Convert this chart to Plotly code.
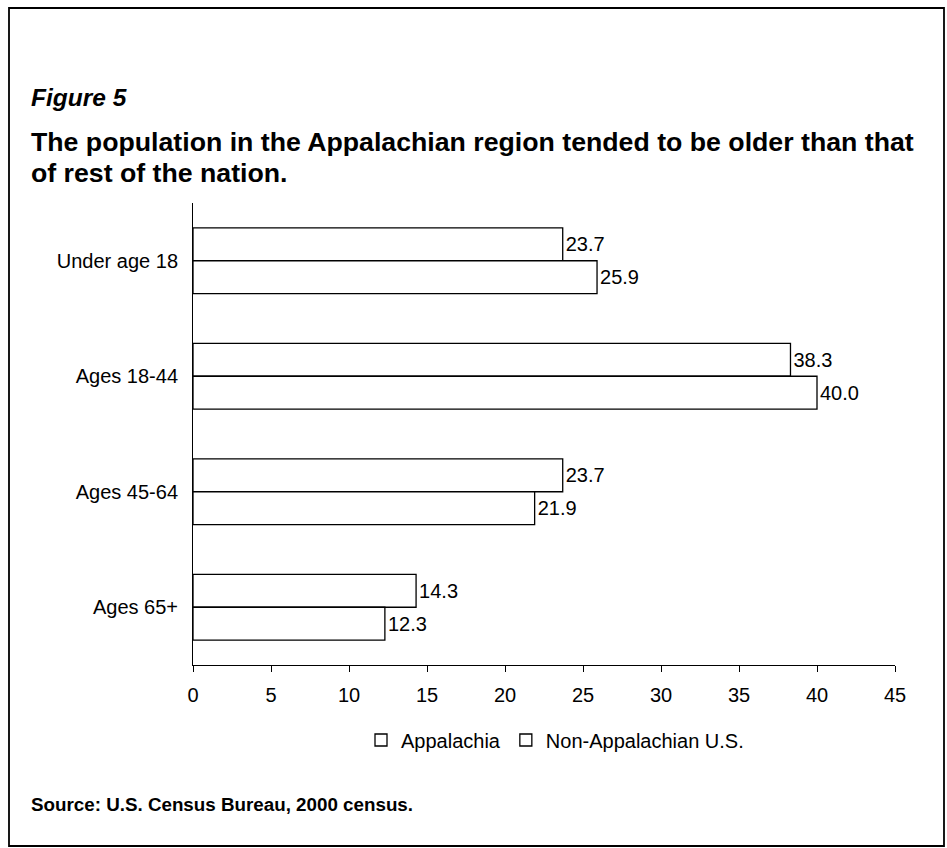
import plotly.graph_objects as go

# Age-group shares of the population (percent), 2000 census
age_groups = ["Under age 18", "Ages 18-44", "Ages 45-64", "Ages 65+"]
appalachia = [23.7, 38.3, 23.7, 14.3]
non_appalachian = [25.9, 40.0, 21.9, 12.3]
x_ticks = [0, 5, 10, 15, 20, 25, 30, 35, 40, 45]

W, H = 947, 848
L, R, T, B = 193, 52, 203, 183
FONT = "Arial, Liberation Sans, Helvetica, sans-serif"
BASE = 20

plot_w = W - L - R
plot_h = H - T - B


def px_x(x):
    """Convert a pixel x position to paper coordinates."""
    return (x - L) / plot_w


def px_y(y):
    """Convert a pixel y position (from top) to paper coordinates."""
    return (H - B - y) / plot_h


bar_style = dict(color="white", line=dict(color="black", width=1.3))
label_font = dict(size=BASE, color="black", family=FONT)

fig = go.Figure()
fig.add_trace(go.Bar(
    name="Appalachia", y=age_groups, x=appalachia, orientation="h",
    marker=bar_style, texttemplate="%{x:.1f}", textposition="outside",
    textfont=label_font, cliponaxis=False,
))
fig.add_trace(go.Bar(
    name="Non-Appalachian U.S.", y=age_groups, x=non_appalachian, orientation="h",
    marker=bar_style, texttemplate="%{x:.1f}", textposition="outside",
    textfont=label_font, cliponaxis=False,
))

annotations = [
    dict(text="<b><i>Figure 5</i></b>", x=px_x(29), y=px_y(97),
         xanchor="left", yanchor="middle", font=dict(size=24.5)),
    dict(text="<b>The population in the Appalachian region tended to be older than that</b>",
         x=px_x(29), y=px_y(142), xanchor="left", yanchor="middle", font=dict(size=26.7)),
    dict(text="<b>of rest of the nation.</b>",
         x=px_x(29), y=px_y(173), xanchor="left", yanchor="middle", font=dict(size=26.7)),
    dict(text="<b>Source: U.S. Census Bureau, 2000 census.</b>",
         x=px_x(29), y=px_y(804), xanchor="left", yanchor="middle", font=dict(size=18.8)),
]
for a in annotations:
    a.update(xref="paper", yref="paper", showarrow=False)
    a["font"].update(family=FONT, color="black")

fig.update_layout(
    width=W, height=H,
    margin=dict(l=L, r=R, t=T, b=B),
    paper_bgcolor="white", plot_bgcolor="white",
    font=dict(family=FONT, size=BASE, color="black"),
    barmode="group", bargap=0.43, bargroupgap=0,
    showlegend=True,
    legend=dict(orientation="h", x=px_x(555), y=px_y(740),
                xanchor="center", yanchor="middle",
                font=dict(size=BASE), itemwidth=30, traceorder="normal"),
    annotations=annotations,
    shapes=[dict(type="rect", xref="paper", yref="paper",
                 x0=px_x(9), x1=px_x(944), y0=px_y(8), y1=px_y(846),
                 line=dict(color="black", width=1.8), fillcolor="rgba(0,0,0,0)",
                 layer="below")],
)
fig.update_xaxes(
    range=[0, 45], tickvals=x_ticks, ticks="outside", ticklen=6, tickwidth=1,
    tickcolor="black", showline=True, linecolor="black", linewidth=1,
    showgrid=False, zeroline=False, tickfont=dict(size=BASE),
    ticklabelstandoff=6,
)
fig.update_yaxes(
    autorange="reversed", showline=True, linecolor="black", linewidth=1,
    ticks="", showgrid=False, tickfont=dict(size=BASE), ticklabelstandoff=10,
)

fig.write_html("out.html")
